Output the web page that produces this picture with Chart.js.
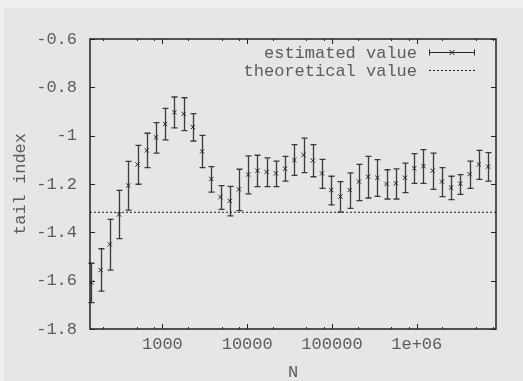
<!DOCTYPE html>
<html>
<head>
<meta charset="utf-8">
<script src="https://cdn.jsdelivr.net/npm/chart.js@4.4.0/dist/chart.umd.min.js"></script>
<style>
html, body { margin: 0; padding: 0; background: #e5e6e8; }
canvas { display: block; }
</style>
</head>
<body>
<canvas id="tailChart" width="523" height="381"></canvas>
<script>
// sample sizes (x, log scale) and estimated tail index with error bars
const sampleN = [145, 187, 240, 308, 396, 509, 654, 840, 1079, 1386, 1780, 2288, 2939, 3775, 4850,
    6230, 8005, 10283, 13210, 16970, 21800, 28010, 35980, 46220, 59380, 76290, 98000, 125900,
    161800, 207800, 267000, 343000, 440700, 566200, 727400, 934400, 1200000, 1542000, 1981000,
    2545000, 3269000, 4200000, 5396000, 6933000];
const tailIndex = [-1.608, -1.556, -1.450, -1.326, -1.206, -1.119, -1.061, -1.007, -0.952, -0.903,
    -0.910, -0.964, -1.065, -1.179, -1.254, -1.270, -1.222, -1.161, -1.145, -1.150, -1.156, -1.137,
    -1.101, -1.080, -1.103, -1.156, -1.225, -1.252, -1.225, -1.190, -1.170, -1.174, -1.200, -1.197,
    -1.174, -1.135, -1.126, -1.145, -1.190, -1.215, -1.199, -1.159, -1.119, -1.128];
const errHigh = [-1.528, -1.468, -1.346, -1.226, -1.106, -1.040, -0.990, -0.946, -0.887, -0.840,
    -0.843, -0.909, -0.999, -1.128, -1.207, -1.210, -1.139, -1.084, -1.081, -1.092, -1.105, -1.086,
    -1.037, -1.010, -1.037, -1.098, -1.168, -1.190, -1.154, -1.119, -1.086, -1.099, -1.141, -1.137,
    -1.114, -1.074, -1.058, -1.072, -1.132, -1.168, -1.161, -1.105, -1.061, -1.070];
const errLow = [-1.691, -1.643, -1.556, -1.426, -1.308, -1.201, -1.132, -1.072, -1.017, -0.968,
    -0.979, -1.022, -1.132, -1.234, -1.305, -1.332, -1.310, -1.241, -1.211, -1.211, -1.211, -1.188,
    -1.164, -1.153, -1.170, -1.218, -1.286, -1.316, -1.301, -1.269, -1.258, -1.251, -1.262, -1.262,
    -1.236, -1.197, -1.197, -1.222, -1.252, -1.265, -1.243, -1.218, -1.181, -1.188];
const theoretical = -1.317;

const xRange = [140, 8600000];
const yTicks = [-1.8, -1.6, -1.4, -1.2, -1, -0.8, -0.6];
const xMajor = [1000, 10000, 100000, 1000000];
const xLabels = ['1000', '10000', '100000', '1e+06'];
const xMinor = [200, 500, 800, 2000, 5000, 8000, 20000, 50000, 80000, 200000, 500000, 800000,
    2000000, 5000000, 8000000];

const ink = '#222';
const textCol = '#5c5c5c';
const monoFont = { family: '"Liberation Mono", "DejaVu Sans Mono", monospace', size: 17 };

// background, with the slightly lighter strip on the top and left edge
const backdrop = {
    id: 'backdrop',
    beforeDraw(chart) {
        const c = chart.ctx;
        c.save();
        c.fillStyle = '#eeeff0';
        c.fillRect(0, 0, chart.width, chart.height);
        c.fillStyle = '#e5e6e8';
        c.fillRect(4, 8, chart.width - 4, chart.height - 8);
        c.restore();
    }
};

// vertical error bars with small caps
const errorBars = {
    id: 'errorBars',
    beforeDatasetsDraw(chart) {
        const c = chart.ctx;
        const xs = chart.scales.x, ys = chart.scales.y;
        c.save();
        c.strokeStyle = '#3a3a3a';
        c.lineWidth = 1.3;
        sampleN.forEach((n, i) => {
            const x = Math.round(xs.getPixelForValue(n)) + 0.5;
            const yTop = ys.getPixelForValue(errHigh[i]);
            const yBot = ys.getPixelForValue(errLow[i]);
            c.beginPath();
            c.moveTo(x, yTop); c.lineTo(x, yBot);
            c.moveTo(x - 3, yTop); c.lineTo(x + 3, yTop);
            c.moveTo(x - 3, yBot); c.lineTo(x + 3, yBot);
            c.stroke();
        });
        c.restore();
    }
};

// frame, inward tick marks on all four sides, and the key
const frame = {
    id: 'frame',
    afterDraw(chart) {
        const c = chart.ctx;
        const a = chart.chartArea;
        const xs = chart.scales.x, ys = chart.scales.y;
        c.save();
        c.strokeStyle = ink;
        c.lineWidth = 1;
        c.beginPath();
        yTicks.forEach(v => {
            const y = Math.round(ys.getPixelForValue(v)) + 0.5;
            c.moveTo(a.left, y); c.lineTo(a.left + 5, y);
            c.moveTo(a.right, y); c.lineTo(a.right - 5, y);
        });
        xMajor.forEach(v => {
            const x = Math.round(xs.getPixelForValue(v)) + 0.5;
            c.moveTo(x, a.bottom); c.lineTo(x, a.bottom - 5);
            c.moveTo(x, a.top); c.lineTo(x, a.top + 5);
        });
        xMinor.forEach(v => {
            const x = Math.round(xs.getPixelForValue(v)) + 0.5;
            c.moveTo(x, a.bottom); c.lineTo(x, a.bottom - 2);
            c.moveTo(x, a.top); c.lineTo(x, a.top + 2);
        });
        c.stroke();

        c.lineWidth = 1.5;
        c.strokeRect(a.left, a.top, a.right - a.left, a.bottom - a.top);

        // key
        const tx = 417, s0 = 429, s1 = 475;
        c.font = monoFont.size + 'px ' + monoFont.family;
        c.fillStyle = textCol;
        c.textAlign = 'right';
        c.textBaseline = 'middle';
        c.fillText('estimated value', tx, 53);
        c.fillText('theoretical value', tx, 71);
        c.lineWidth = 1;
        c.beginPath();
        c.moveTo(s0, 52.5); c.lineTo(s1, 52.5);
        c.moveTo(s0 + 0.5, 49.5); c.lineTo(s0 + 0.5, 55.5);
        c.moveTo(s1 - 0.5, 49.5); c.lineTo(s1 - 0.5, 55.5);
        const mx = (s0 + s1) / 2;
        c.moveTo(mx - 2.5, 50); c.lineTo(mx + 2.5, 55);
        c.moveTo(mx - 2.5, 55); c.lineTo(mx + 2.5, 50);
        c.stroke();
        c.setLineDash([2, 2]);
        c.beginPath();
        c.moveTo(s0, 70.5); c.lineTo(s1, 70.5);
        c.stroke();
        c.restore();
    }
};

const chart = new Chart(document.getElementById('tailChart'), {
    type: 'scatter',
    data: {
        datasets: [
            {
                label: 'estimated value',
                data: sampleN.map((n, i) => ({ x: n, y: tailIndex[i] })),
                pointStyle: 'crossRot',
                pointRadius: 3,
                borderColor: ink,
                borderWidth: 1,
                showLine: false
            },
            {
                label: 'theoretical value',
                data: xRange.map(n => ({ x: n, y: theoretical })),
                showLine: true,
                borderColor: ink,
                borderWidth: 1,
                borderDash: [2, 2],
                pointRadius: 0
            }
        ]
    },
    options: {
        responsive: false,
        animation: false,
        devicePixelRatio: 1,
        layout: { padding: { top: 39, right: 27, left: 0, bottom: 0 } },
        plugins: {
            legend: { display: false },
            tooltip: { enabled: false }
        },
        scales: {
            x: {
                type: 'logarithmic',
                min: xRange[0],
                max: xRange[1],
                afterBuildTicks: (scale) => { scale.ticks = xMajor.map(v => ({ value: v })); },
                afterFit: (scale) => { scale.height = 52; },
                grid: { display: false, drawTicks: false },
                border: { display: false },
                ticks: {
                    callback: (v) => xLabels[xMajor.indexOf(v)],
                    font: monoFont,
                    color: textCol,
                    padding: 5,
                    maxRotation: 0,
                    autoSkip: false
                },
                title: {
                    display: true,
                    text: 'N',
                    font: { ...monoFont, lineHeight: 1 },
                    color: textCol,
                    padding: 0
                }
            },
            y: {
                type: 'linear',
                min: -1.8,
                max: -0.6,
                afterBuildTicks: (scale) => { scale.ticks = yTicks.map(v => ({ value: v })); },
                afterFit: (scale) => { scale.width = 90; },
                grid: { display: false, drawTicks: false },
                border: { display: false },
                ticks: {
                    callback: (v) => String(v),
                    font: monoFont,
                    color: textCol,
                    padding: 13
                },
                title: {
                    display: true,
                    text: 'tail index',
                    font: { ...monoFont, lineHeight: 1 },
                    color: textCol,
                    padding: { top: 12, bottom: 0 }
                }
            }
        }
    },
    plugins: [backdrop, errorBars, frame]
});
</script>
</body>
</html>
